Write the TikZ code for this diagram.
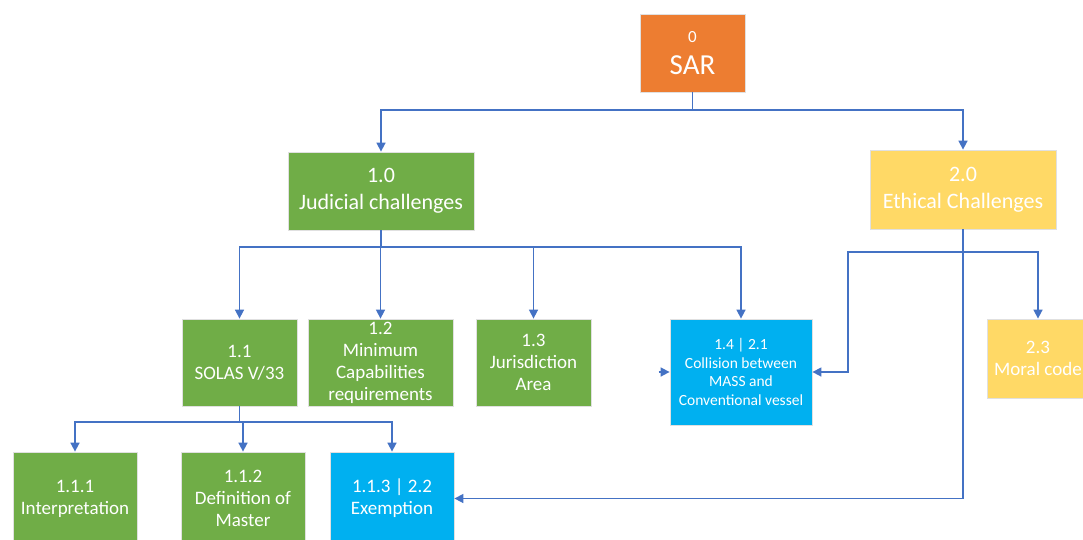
\documentclass[tikz,border=0pt]{standalone}
\usepackage{fontspec}
\setmainfont{Carlito}
\usetikzlibrary{arrows.meta,calc}
\definecolor{boxgreen}{HTML}{70AD47}
\definecolor{boxorange}{HTML}{ED7D31}
\definecolor{boxyellow}{HTML}{FFD966}
\definecolor{boxblue}{HTML}{00B0F0}
\definecolor{lineblue}{HTML}{4472C4}
\begin{document}
\begin{tikzpicture}[x=1pt,y=-1pt,
  box/.style={draw=black!12, line width=0.8pt, text=white, align=center, inner sep=0pt,
    font=\fontsize{19}{22}\selectfont},
  gbox/.style={box, fill=boxgreen},
  ybox/.style={box, fill=boxyellow},
  bbox/.style={box, fill=boxblue},
  obox/.style={box, fill=boxorange},
  arr/.style={draw=lineblue, line width=1.6pt, -{Triangle[length=9pt,width=9pt]}}]
\useasboundingbox (0,0) rectangle (1083,539);

% nodes
\node[obox, minimum width=105, minimum height=78, font=\fontsize{29}{32}\selectfont] (sar) at (692.5,53)
  {{\fontsize{17}{20}\selectfont 0}\\SAR};
\node[gbox, minimum width=186, minimum height=78, font=\fontsize{22}{27}\selectfont] (jc) at (381,191)
  {1.0\\Judicial challenges};
\node[ybox, minimum width=186, minimum height=79, font=\fontsize{22}{27}\selectfont] (ec) at (963,189.5)
  {2.0\\Ethical Challenges};
\node[gbox, minimum width=115, minimum height=87] (s11) at (239.5,362.5) {1.1\\SOLAS V/33};
\node[gbox, minimum width=145, minimum height=87] (s12) at (380.5,362.5) {1.2\\Minimum\\Capabilities\\requirements};
\node[gbox, minimum width=115, minimum height=87] (s13) at (533.5,362.5) {1.3\\Jurisdiction\\Area};
\node[bbox, minimum width=142, minimum height=106, font=\fontsize{15.5}{18.5}\selectfont] (s14) at (741,372)
  {1.4 | 2.1\\Collision between\\MASS and\\Conventional vessel};
\node[ybox, minimum width=102, minimum height=79] (s23) at (1038,358.5) {2.3\\Moral code};
\node[gbox, minimum width=124, minimum height=93] (s111) at (75,498.5) {1.1.1\\Interpretation};
\node[gbox, minimum width=124, minimum height=93] (s112) at (243,498.5) {1.1.2\\Definition of\\Master};
\node[bbox, minimum width=124, minimum height=93] (s113) at (392,498.5) {1.1.3 | 2.2\\Exemption};

% bus coordinates
\coordinate (b0) at (0,110);
\coordinate (b1) at (0,247);
\coordinate (b2) at (0,252);
\coordinate (b3) at (0,422);
\coordinate (k) at (848,0);
\coordinate (st) at ($(s14.west)+(-11,0)$);

% connectors
\draw[arr] (sar.south) -- (sar.south |- b0) -| (jc.north);
\draw[arr] (sar.south) -- (sar.south |- b0) -| (ec.north);
\foreach \n in {s11,s12,s13,s14}
  \draw[arr] (jc.south) -- (jc.south |- b1) -| (\n.north);
\draw[arr] (ec.south) -- (ec.south |- b2) -| (k |- s14.east) -- (s14.east);
\draw[arr] (ec.south) -- (ec.south |- b2) -| (s23.north);
\draw[arr] (ec.south) |- (s113.east);
\foreach \n in {s111,s112,s113}
  \draw[arr] (s11.south) -- (s11.south |- b3) -| (\n.north);
\draw[arr] (st) -- (s14.west);
\end{tikzpicture}
\end{document}
